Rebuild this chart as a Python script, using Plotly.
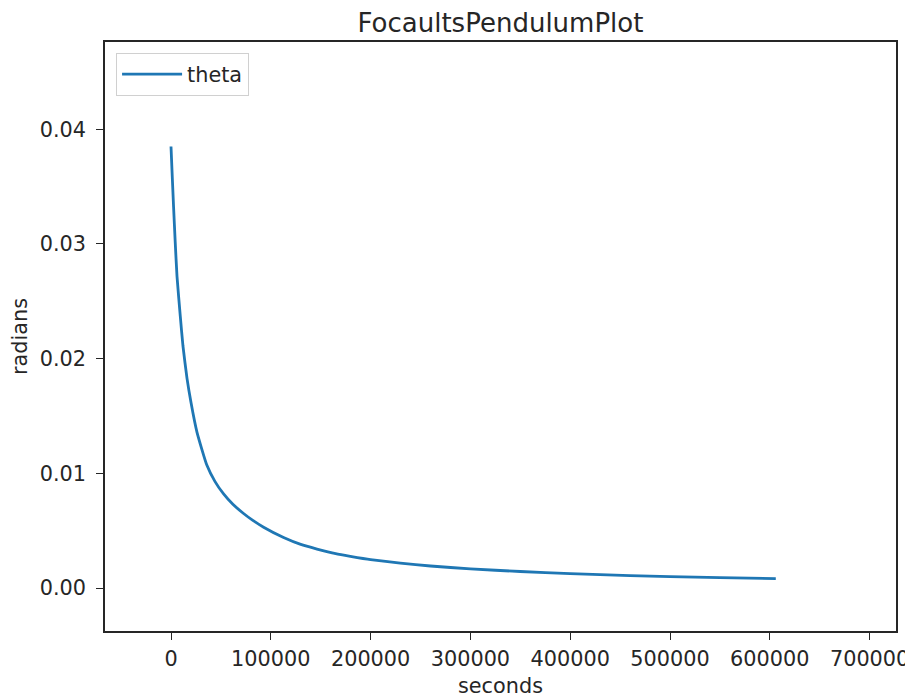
import plotly.graph_objects as go

# Data
seconds = [0, 1300, 2600, 4200, 6000, 9300, 12000, 16000, 20000, 26000,
           36000, 44000, 52700, 62000, 72700, 82000, 92800, 112800, 130000,
           146300, 165000, 179700, 200000, 229800, 260000, 300000, 350000,
           400000, 460000, 500000, 550000, 606000]
theta = [0.0385, 0.0358, 0.0332, 0.0302, 0.0272, 0.0237, 0.0211, 0.0183,
         0.0162, 0.0136, 0.0107, 0.0093, 0.0082, 0.0073, 0.0065, 0.0059,
         0.0053, 0.0044, 0.0038, 0.0034, 0.0030, 0.00277, 0.00248, 0.00217,
         0.00192, 0.00167, 0.00144, 0.00126, 0.00109, 0.00100, 0.00090,
         0.00082]

x_ticks = [0, 100000, 200000, 300000, 400000, 500000, 600000, 700000]
y_ticks = [0.00, 0.01, 0.02, 0.03, 0.04]

FONT = "DejaVu Sans"
INK = "#262626"
FS = 20.8

fig = go.Figure()
fig.add_trace(go.Scatter(
    x=seconds, y=theta, mode="lines", name="theta",
    line=dict(color="#1f77b4", width=2.8, shape="spline", smoothing=0.5),
))

axis_common = dict(
    showgrid=False, zeroline=False, showline=True, mirror=True,
    linecolor=INK, linewidth=1.6,
    ticks="outside", ticklen=7, tickwidth=1.4, tickcolor=INK,
    tickfont=dict(family=FONT, size=FS, color=INK),
    ticklabeloverflow="allow", automargin=False,
)

fig.update_layout(
    width=905, height=690,
    paper_bgcolor="white", plot_bgcolor="white",
    margin=dict(l=97, r=17, t=34, b=67, autoexpand=False),
    title=dict(text="FocaultsPendulumPlot", x=0.5, xanchor="center",
               xref="paper",
               y=1 - 15 / 690, yanchor="middle", yref="container",
               font=dict(family=FONT, size=26, color=INK)),
    xaxis=dict(range=[-66130, 726450], tickvals=x_ticks,
               ticktext=[str(v) for v in x_ticks],
               ticklabelstandoff=1,
               title=dict(text="seconds", standoff=14,
                          font=dict(family=FONT, size=FS, color=INK)),
               **axis_common),
    yaxis=dict(range=[-0.003747, 0.04761], tickvals=y_ticks,
               ticktext=[f"{v:.2f}" for v in y_ticks],
               ticklabelstandoff=6,
               title=dict(text="radians", standoff=12,
                          font=dict(family=FONT, size=FS, color=INK)),
               **axis_common),
    showlegend=True,
    legend=dict(x=0.014, y=0.981, xanchor="left", yanchor="top",
                bgcolor="rgba(255,255,255,0.8)", bordercolor="#d0d0d0",
                borderwidth=1, font=dict(family=FONT, size=FS, color=INK),
                itemwidth=60),
)

fig.write_html("out.html")
